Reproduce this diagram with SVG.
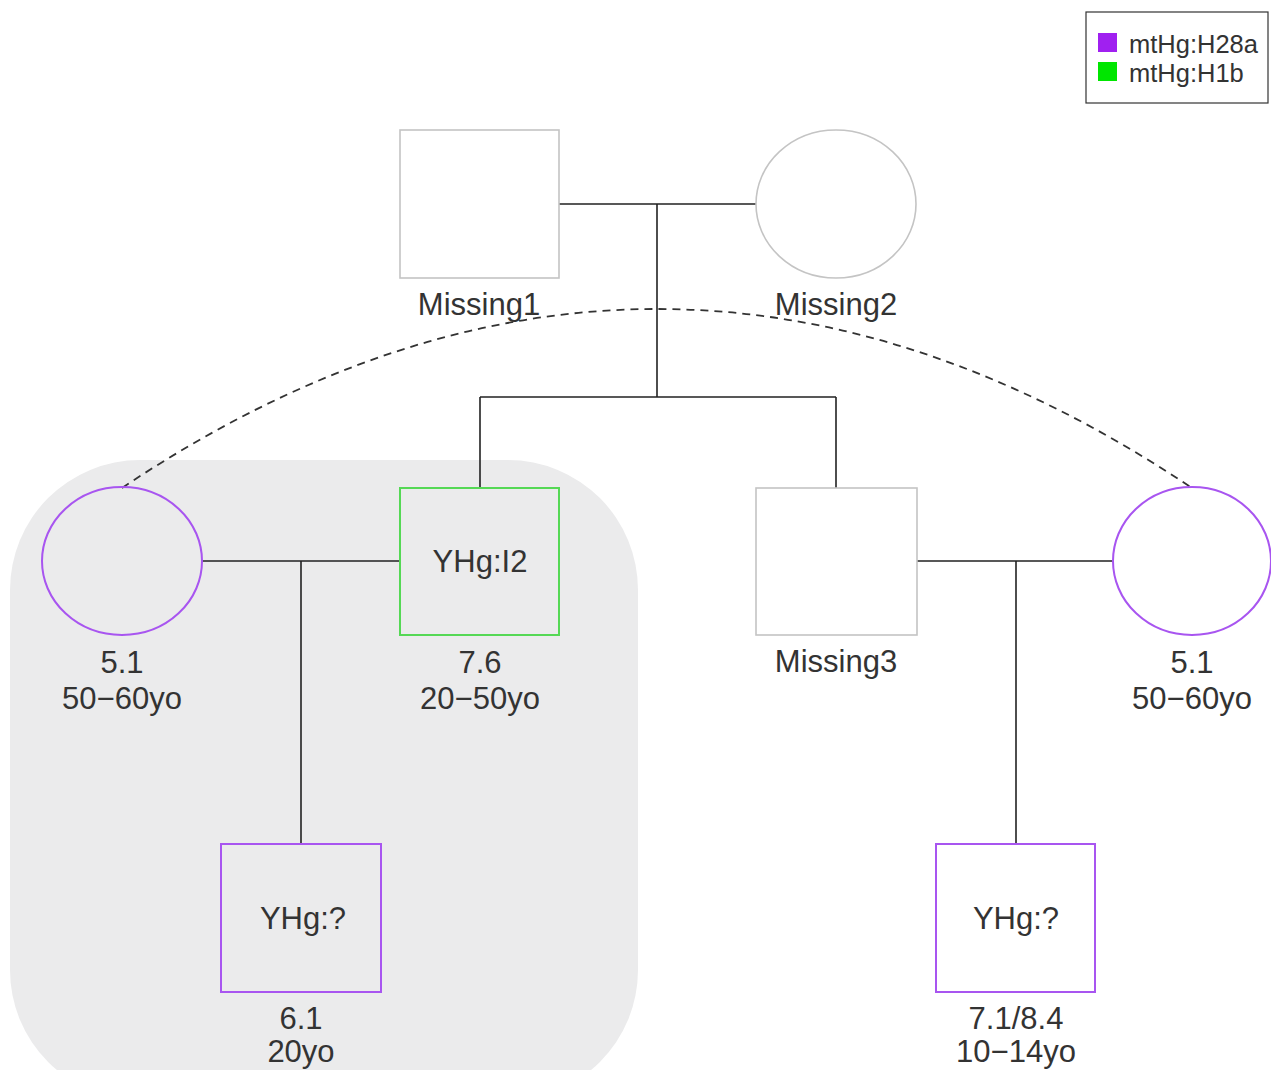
<svg xmlns="http://www.w3.org/2000/svg" width="1271" height="1070" viewBox="0 0 1271 1070">
<style>
text{font-family:"Liberation Sans",Arial,sans-serif;fill:#333;}
.lbl{font-size:31px;text-anchor:middle;}
.leg{font-size:25.5px;}
.ln{stroke:#222;stroke-width:1.6;fill:none;}
.miss{fill:#fff;stroke:#c4c4c4;stroke-width:1.6;}
.pur{fill:none;stroke:#a855f0;stroke-width:2;}
.grn{fill:none;stroke:#55d855;stroke-width:2;}
</style>
<rect x="0" y="0" width="1271" height="1070" fill="#fff"/>
<rect x="10" y="460" width="628" height="640" rx="130" fill="#ebebec"/>
<g id="legend">
<rect x="1086" y="12" width="182" height="91" fill="#fff" stroke="#333" stroke-width="1.2"/>
<rect x="1098" y="33" width="19" height="19" fill="#a020f0"/>
<text class="leg" x="1129" y="53">mtHg:H28a</text>
<rect x="1098" y="62" width="19" height="19" fill="#00e600"/>
<text class="leg" x="1129" y="82">mtHg:H1b</text>
</g>
<g id="connectors">
<path class="ln" d="M559 204H756M657 204V397M480 397H836M480 397V488M836 397V488"/>
<path class="ln" d="M202 561H400M301 561V844"/>
<path class="ln" d="M917 561H1113M1016 561V844"/>
<path d="M122 488Q657 130 1192 488" fill="none" stroke="#333" stroke-width="1.8" stroke-dasharray="8,6"/>
</g>
<g id="missing1">
<rect class="miss" x="400" y="130" width="159" height="148"/>
<text class="lbl" x="479" y="315">Missing1</text>
</g>
<g id="missing2">
<ellipse class="miss" cx="836" cy="204" rx="80" ry="74"/>
<text class="lbl" x="836" y="315">Missing2</text>
</g>
<g id="left-mother">
<ellipse class="pur" cx="122" cy="561" rx="80" ry="74" fill="none"/>
<text class="lbl" x="122" y="673">5.1</text>
<text class="lbl" x="122" y="709">50−60yo</text>
</g>
<g id="yhg-i2">
<rect class="grn" x="400" y="488" width="159" height="147"/>
<text class="lbl" x="480" y="572">YHg:I2</text>
<text class="lbl" x="480" y="673">7.6</text>
<text class="lbl" x="480" y="709">20−50yo</text>
</g>
<g id="missing3">
<rect class="miss" x="756" y="488" width="161" height="147"/>
<text class="lbl" x="836" y="672">Missing3</text>
</g>
<g id="right-mother">
<ellipse class="pur" cx="1192" cy="561" rx="79" ry="74"/>
<text class="lbl" x="1192" y="673">5.1</text>
<text class="lbl" x="1192" y="709">50−60yo</text>
</g>
<g id="left-child">
<rect class="pur" x="221" y="844" width="160" height="148"/>
<text class="lbl" x="303" y="929">YHg:?</text>
<text class="lbl" x="301" y="1029">6.1</text>
<text class="lbl" x="301" y="1062">20yo</text>
</g>
<g id="right-child">
<rect class="pur" x="936" y="844" width="159" height="148"/>
<text class="lbl" x="1016" y="929">YHg:?</text>
<text class="lbl" x="1016" y="1029">7.1/8.4</text>
<text class="lbl" x="1016" y="1062">10−14yo</text>
</g>
</svg>
